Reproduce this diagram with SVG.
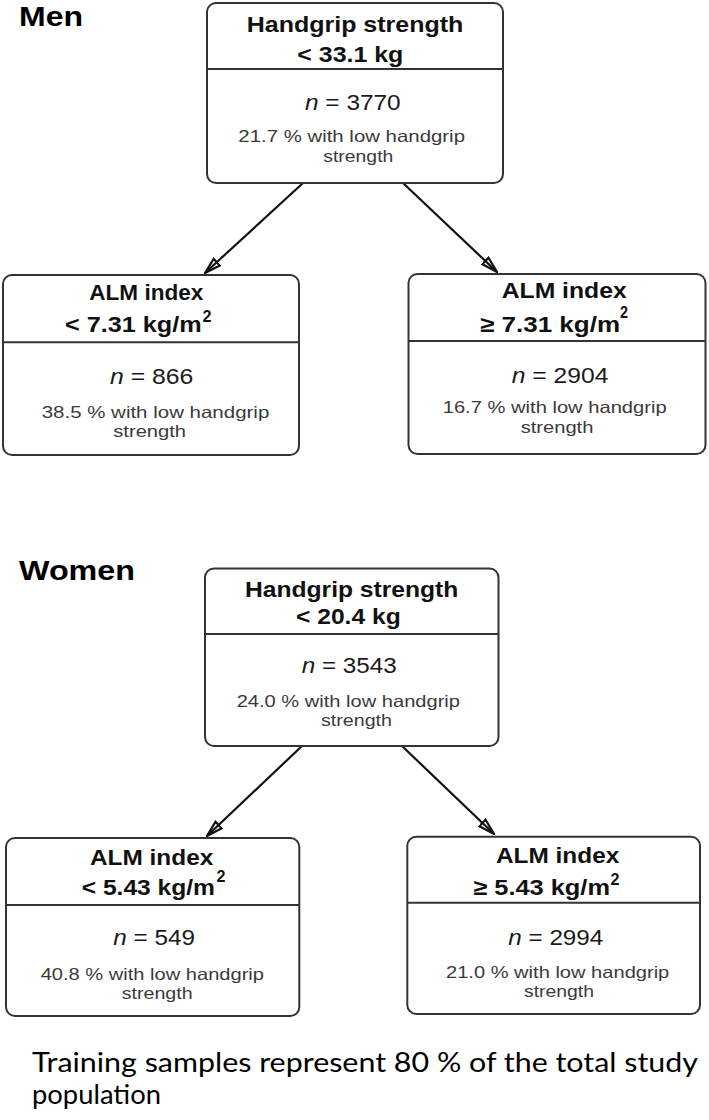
<svg xmlns="http://www.w3.org/2000/svg" width="709" height="1120" viewBox="0 0 709 1120">
<style>
.box{fill:#fff;stroke:#333;stroke-width:2}
.div{stroke:#333;stroke-width:2}
.t{font-family:"Liberation Sans",Arial,sans-serif;font-weight:bold;font-size:22px;fill:#111}
.sup{font-family:"Liberation Sans",Arial,sans-serif;font-weight:bold;font-size:17px;fill:#111}
.n{font-family:"Liberation Sans",Arial,sans-serif;font-size:22px;fill:#1a1a1a}
.p{font-family:"Liberation Sans",Arial,sans-serif;font-size:16.5px;fill:#3a3a3a}
.h{font-family:"Liberation Sans",Arial,sans-serif;font-weight:bold;font-size:28px;fill:#000}
.cap{font-family:Lato,"Open Sans",sans-serif;font-size:26px;fill:#000}
.edge{stroke:#111;stroke-width:2.2;fill:none}
</style>
<defs>
<marker id="arr" viewBox="0 0 18 12" refX="17" refY="6" markerWidth="18" markerHeight="12" markerUnits="userSpaceOnUse" orient="auto">
<path d="M1,1.5 L17,6 L1,10.5 z" fill="none" stroke="#111" stroke-width="2.2" stroke-linejoin="miter"/>
</marker>
</defs>

<text class="h" x="19" y="26" textLength="64" lengthAdjust="spacingAndGlyphs">Men</text>
<text class="h" x="19" y="580" textLength="116" lengthAdjust="spacingAndGlyphs">Women</text>

<g id="connectors">
<line class="edge" x1="303" y1="183" x2="205" y2="273" marker-end="url(#arr)"/>
<line class="edge" x1="403" y1="183" x2="497" y2="272" marker-end="url(#arr)"/>
<line class="edge" x1="302" y1="746" x2="207" y2="836" marker-end="url(#arr)"/>
<line class="edge" x1="402" y1="746" x2="494" y2="834" marker-end="url(#arr)"/>
</g>

<g id="men-root">
<rect class="box" x="207" y="3" width="296" height="180" rx="9"/>
<line class="div" x1="207" y1="69" x2="503" y2="69"/>
<text class="t" x="246.7" y="31.7" textLength="216.7" lengthAdjust="spacingAndGlyphs">Handgrip strength</text>
<text class="t" x="297.3" y="61.7" textLength="106" lengthAdjust="spacingAndGlyphs">&lt; 33.1 kg</text>
<text class="n" x="305" y="110" textLength="95.7" lengthAdjust="spacingAndGlyphs"><tspan font-style="italic">n</tspan> = 3770</text>
<text class="p" x="238.3" y="141.7" textLength="226.7" lengthAdjust="spacingAndGlyphs">21.7 % with low handgrip</text>
<text class="p" x="323.3" y="161.7" textLength="70" lengthAdjust="spacingAndGlyphs">strength</text>
</g>

<g id="men-left">
<rect class="box" x="3" y="275" width="296" height="180" rx="9"/>
<line class="div" x1="3" y1="342.3" x2="299" y2="342.3"/>
<text class="t" x="89.3" y="300" textLength="114" lengthAdjust="spacingAndGlyphs">ALM index</text>
<text class="t" x="65" y="331.7" textLength="136.7" lengthAdjust="spacingAndGlyphs">&lt; 7.31 kg/m</text>
<text class="sup" x="202.5" y="321.5" textLength="9" lengthAdjust="spacingAndGlyphs">2</text>
<text class="n" x="110" y="384" textLength="83.3" lengthAdjust="spacingAndGlyphs"><tspan font-style="italic">n</tspan> = 866</text>
<text class="p" x="41.7" y="418.3" textLength="227.6" lengthAdjust="spacingAndGlyphs">38.5 % with low handgrip</text>
<text class="p" x="113.3" y="436.7" textLength="72.7" lengthAdjust="spacingAndGlyphs">strength</text>
</g>

<g id="men-right">
<rect class="box" x="408.5" y="274" width="297" height="180" rx="9"/>
<line class="div" x1="408.5" y1="341" x2="705.5" y2="341"/>
<text class="t" x="501.7" y="298.3" textLength="125" lengthAdjust="spacingAndGlyphs">ALM index</text>
<text class="t" x="480" y="331.7" textLength="140" lengthAdjust="spacingAndGlyphs">≥ 7.31 kg/m</text>
<text class="sup" x="620" y="318" textLength="8" lengthAdjust="spacingAndGlyphs">2</text>
<text class="n" x="511.7" y="383.3" textLength="96.7" lengthAdjust="spacingAndGlyphs"><tspan font-style="italic">n</tspan> = 2904</text>
<text class="p" x="442.7" y="413.3" textLength="224" lengthAdjust="spacingAndGlyphs">16.7 % with low handgrip</text>
<text class="p" x="520.7" y="433.3" textLength="72.7" lengthAdjust="spacingAndGlyphs">strength</text>
</g>

<g id="women-root">
<rect class="box" x="205" y="568.5" width="293.5" height="177.5" rx="9"/>
<line class="div" x1="205" y1="634" x2="498.5" y2="634"/>
<text class="t" x="245" y="597.3" textLength="213.3" lengthAdjust="spacingAndGlyphs">Handgrip strength</text>
<text class="t" x="296" y="624" textLength="104.7" lengthAdjust="spacingAndGlyphs">&lt; 20.4 kg</text>
<text class="n" x="301.7" y="673.3" textLength="95" lengthAdjust="spacingAndGlyphs"><tspan font-style="italic">n</tspan> = 3543</text>
<text class="p" x="236.7" y="706.7" textLength="223.3" lengthAdjust="spacingAndGlyphs">24.0 % with low handgrip</text>
<text class="p" x="321" y="725.7" textLength="71" lengthAdjust="spacingAndGlyphs">strength</text>
</g>

<g id="women-left">
<rect class="box" x="6" y="838" width="293.3" height="178" rx="9"/>
<line class="div" x1="6" y1="905" x2="299.3" y2="905"/>
<text class="t" x="90" y="865" textLength="123.3" lengthAdjust="spacingAndGlyphs">ALM index</text>
<text class="t" x="81.7" y="895" textLength="133.3" lengthAdjust="spacingAndGlyphs">&lt; 5.43 kg/m</text>
<text class="sup" x="216.5" y="881.7" textLength="9" lengthAdjust="spacingAndGlyphs">2</text>
<text class="n" x="113.3" y="945" textLength="81.7" lengthAdjust="spacingAndGlyphs"><tspan font-style="italic">n</tspan> = 549</text>
<text class="p" x="40.7" y="980" textLength="223.3" lengthAdjust="spacingAndGlyphs">40.8 % with low handgrip</text>
<text class="p" x="121.7" y="999" textLength="71" lengthAdjust="spacingAndGlyphs">strength</text>
</g>

<g id="women-right">
<rect class="box" x="407.3" y="836.7" width="292.7" height="177.3" rx="9"/>
<line class="div" x1="407.3" y1="902.7" x2="700" y2="902.7"/>
<text class="t" x="496" y="863.3" textLength="123.3" lengthAdjust="spacingAndGlyphs">ALM index</text>
<text class="t" x="473.3" y="895" textLength="136.7" lengthAdjust="spacingAndGlyphs">≥ 5.43 kg/m</text>
<text class="sup" x="610.5" y="885" textLength="9" lengthAdjust="spacingAndGlyphs">2</text>
<text class="n" x="508.3" y="945" textLength="95" lengthAdjust="spacingAndGlyphs"><tspan font-style="italic">n</tspan> = 2994</text>
<text class="p" x="446" y="978.3" textLength="223.3" lengthAdjust="spacingAndGlyphs">21.0 % with low handgrip</text>
<text class="p" x="524" y="996.7" textLength="70" lengthAdjust="spacingAndGlyphs">strength</text>
</g>

<g id="caption">
<text class="cap" x="32" y="1072" textLength="666" lengthAdjust="spacingAndGlyphs">Training samples represent 80 % of the total study</text>
<text class="cap" x="32" y="1104" textLength="129" lengthAdjust="spacingAndGlyphs">population</text>
</g>
</svg>
